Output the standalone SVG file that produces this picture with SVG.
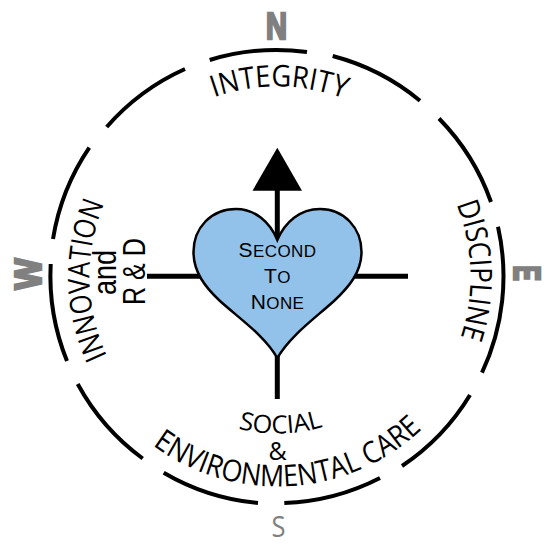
<svg xmlns="http://www.w3.org/2000/svg" width="554" height="553" viewBox="0 0 554 553">
<style>
.ring{fill:none;stroke:#000;stroke-width:4;stroke-linecap:butt}
.line{fill:none;stroke:#000;stroke-width:5}
.cur{font-family:"Open Sans","Noto Sans",sans-serif;font-size:30px;fill:#000}
.soc{font-family:"Open Sans","Noto Sans",sans-serif;font-size:25px;fill:#000}
.rd{font-family:"Liberation Sans",Arial,sans-serif;font-size:31px;fill:#000}
.dir{font-family:"Liberation Sans",Arial,sans-serif;font-weight:bold;font-size:37px;fill:#808080;stroke:#808080;stroke-width:2.5}
.ht{font-family:"Liberation Sans",Arial,sans-serif;font-size:17px;fill:#000;text-anchor:middle;letter-spacing:.4px}
.cap{font-size:21px}
</style>
<defs>
<path id="pInt" d="M214.1,97.4A190,190 0 0 1 357.8,104.3"/>
<path id="pDis" d="M456.4,204.2A193,193 0 0 1 452.4,358.1"/>
<path id="pInn" d="M107.1,356A188,188 0 0 1 110,191.1"/>
<path id="pEnv" d="M152.6,445.3A210,210 0 0 0 428.6,422.4"/>
<path id="pSoc" d="M238.2,428.5A157,157 0 0 0 343.9,418.8"/>
</defs>
<g id="ring">
<path class="ring" d="M209.7,60A227,227 0 0 1 307,52"/>
<path class="ring" d="M332.7,56A227,227 0 0 1 420,100.7"/>
<path class="ring" d="M439,118.5A227,227 0 0 1 491,202"/>
<path class="ring" d="M498,226.7A227,227 0 0 1 482,372.7"/>
<path class="ring" d="M470,395A227,227 0 0 1 402,466"/>
<path class="ring" d="M380,478A227,227 0 0 1 284.3,503"/>
<path class="ring" d="M258,503A227,227 0 0 1 163.7,472.7"/>
<path class="ring" d="M142.7,458.5A227,227 0 0 1 77.7,384"/>
<path class="ring" d="M67,361A227,227 0 0 1 50.7,264"/>
<path class="ring" d="M53,239A227,227 0 0 1 89.3,147.7"/>
<path class="ring" d="M106.7,127A227,227 0 0 1 185,69"/>
</g>
<g id="connectors">
<path class="line" d="M277.3,190V240"/>
<path class="line" d="M277.3,356V399"/>
<path class="line" d="M147,276.3H202"/>
<path class="line" d="M353,276.3H408"/>
<polygon id="arrowhead" points="277.3,147.7 302,190.7 252.5,190.7" fill="#000"/>
</g>
<g id="heart">
<path d="M277.3,240C270,222 255,209 236,209C211,209 193.5,228 193.5,252C193.5,272 205,287 220,301C240,319 265,336 277.3,358C290,336 314,319 334,301C349,287 361.5,272 361.5,252C361.5,228 344,209 320,209C300,209 285,222 277.3,240Z" fill="#92C1E9" stroke="#000" stroke-width="2.5"/>
<text class="ht" x="277.5" y="256.7"><tspan class="cap">S</tspan>ECOND</text>
<text class="ht" x="277.5" y="282.7"><tspan class="cap">T</tspan>O</text>
<text class="ht" x="277.5" y="309"><tspan class="cap">N</tspan>ONE</text>
</g>
<g id="integrity"><text class="cur"><textPath href="#pInt" textLength="133" lengthAdjust="spacingAndGlyphs">INTEGRITY</textPath></text></g>
<g id="discipline"><text class="cur"><textPath href="#pDis" textLength="136" lengthAdjust="spacingAndGlyphs">DISCIPLINE</textPath></text></g>
<g id="innovation">
<text class="cur"><textPath href="#pInn" textLength="157" lengthAdjust="spacingAndGlyphs">INNOVATION</textPath></text>
<text class="rd" style="font-size:33px" transform="translate(115.5,295) rotate(-90)" textLength="45" lengthAdjust="spacingAndGlyphs">and</text>
<text class="rd" transform="translate(144.7,305) rotate(-90)" textLength="67" lengthAdjust="spacingAndGlyphs">R &amp; D</text>
</g>
<g id="social">
<text class="soc"><textPath href="#pSoc" textLength="86" lengthAdjust="spacingAndGlyphs">SOCIAL</textPath></text>
<text class="soc" x="277.5" y="460" text-anchor="middle">&amp;</text>
<text class="cur"><textPath href="#pEnv" textLength="293" lengthAdjust="spacingAndGlyphs">ENVIRONMENTAL CARE</textPath></text>
</g>
<g id="north"><text class="dir" x="266" y="39" textLength="21" lengthAdjust="spacingAndGlyphs">N</text></g>
<g id="east"><text class="dir" transform="translate(514,265.5) rotate(90)" textLength="15.5" lengthAdjust="spacingAndGlyphs">E</text></g>
<g id="west"><text class="dir" transform="translate(40.5,289.5) rotate(-90)" textLength="31" lengthAdjust="spacingAndGlyphs">W</text></g>
<g id="south"><text x="278.5" y="537" text-anchor="middle" font-family="Open Sans, Noto Sans, sans-serif" font-size="30" fill="#808080" textLength="14" lengthAdjust="spacingAndGlyphs">S</text></g>
</svg>
